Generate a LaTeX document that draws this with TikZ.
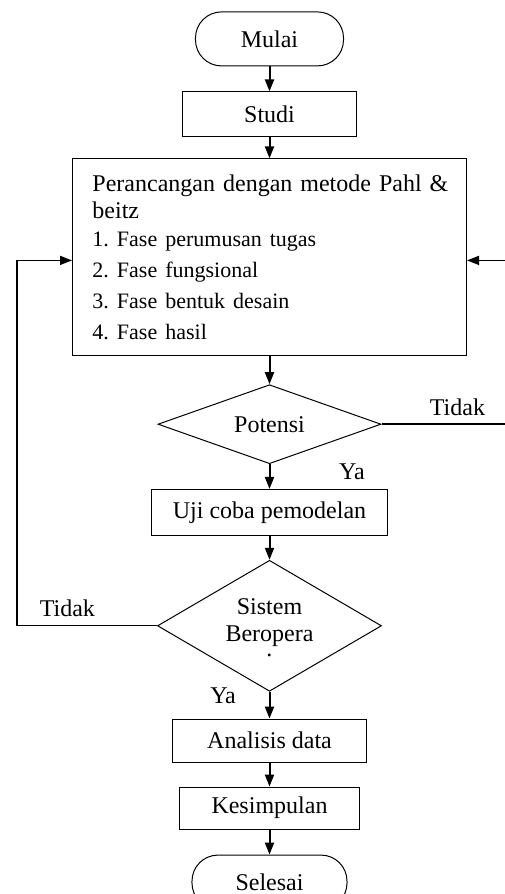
\documentclass[tikz,border=0pt]{standalone}
\usepackage{fontspec}
\setmainfont{Liberation Serif}
\usetikzlibrary{matrix,shapes.geometric,arrows.meta}

\begin{document}
\begin{tikzpicture}[x=0.5pt,y=-0.5pt,font=\fontsize{12}{13.5}\selectfont\frenchspacing,
    term/.style={draw,line width=0.5pt,rounded corners=13pt,minimum width=74pt,minimum height=27pt,inner sep=0pt},
    proc/.style={draw,line width=0.5pt,inner sep=0pt},
    bigbox/.style={draw,line width=0.5pt,text width=177pt,align=left,inner xsep=10pt,inner ysep=0pt,minimum height=98.5pt},
    decide/.style={draw,diamond,line width=0.5pt,inner sep=0pt},
    flow/.style={-{Stealth[inset=0pt,length=6pt,width=4.5pt]},line width=1pt},
    back/.style={flow,line width=0.7pt}]
  \useasboundingbox (0,0) rectangle (504,894);
  \coordinate (lx) at (17,0);
  \coordinate (rx) at (506,0);
  \matrix (m) [matrix of nodes,row sep=12pt,anchor=north,inner sep=0pt] at (269.5,11)
  {
    |[term]| Mulai \\[0.5pt]
    |[proc,minimum width=86.5pt,minimum height=22.5pt]| Studi \\[-1.5pt]
    |[bigbox]| {\mbox{Perancangan dengan metode Pahl \&}\\beitz\\[0.5pt]\fontsize{11}{13.5}\selectfont 1. Fase perumusan tugas\\[2pt]2. Fase fungsional\\[2pt]3. Fase bentuk desain\\[2pt]4. Fase hasil} \\[2pt]
    |[decide,minimum width=111.5pt,minimum height=39.5pt,aspect=2.8]| Potensi \\[0.5pt]
    |[proc,minimum width=118pt,minimum height=23pt]| Uji coba pemodelan \\
    |[decide,text width=50pt,align=center,minimum width=112pt,minimum height=65.5pt,aspect=1.7]| {Sistem\\Beropera\\[-13.5pt]\raisebox{-7.5pt}[0pt][6pt]{.}} \\[1.5pt]
    |[proc,minimum width=97pt,minimum height=21.5pt]| Analisis data \\
    |[proc,minimum width=89.5pt,minimum height=21pt]| Kesimpulan \\[0.5pt]
    |[term,minimum width=77.5pt]| Selesai \\
  };
  \path[flow]
    (m-1-1) edge (m-2-1)
    (m-2-1) edge (m-3-1)
    (m-3-1) edge (m-4-1)
    (m-4-1) edge node[pos=0.3,right=31pt] {Ya} (m-5-1)
    (m-5-1) edge (m-6-1)
    (m-6-1) edge node[pos=0.15,left=13pt] {Ya} (m-7-1)
    (m-7-1) edge (m-8-1)
    (m-8-1) edge (m-9-1);
  % jalur kembali
  \draw[back] (m-6-1.west) -- node[above=1pt,pos=0.64] {Tidak} (m-6-1.west -| lx) |- ([yshift=-1.5pt]m-3-1.west);
  \draw[back] (m-4-1.east) -- node[above=0.5pt,pos=0.61] {Tidak} (m-4-1.east -| rx) |- ([yshift=-1.5pt]m-3-1.east);
\end{tikzpicture}
\end{document}
